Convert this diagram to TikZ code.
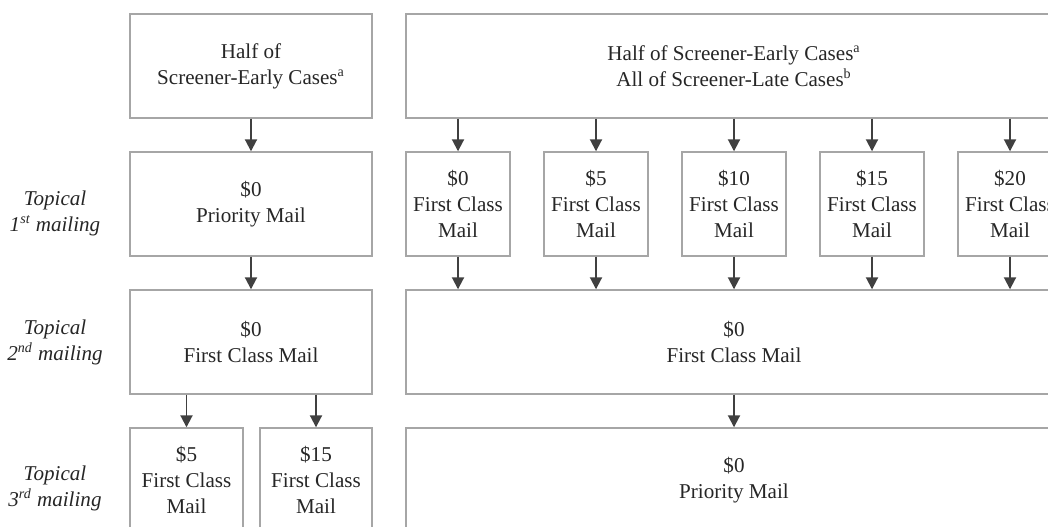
\documentclass[tikz,border=0pt]{standalone}
\usepackage{fontspec}
\setmainfont{Liberation Serif}
\usetikzlibrary{arrows.meta}
\definecolor{boxGray}{HTML}{A6A6A6}
\definecolor{arrowGray}{HTML}{404040}
\definecolor{textGray}{HTML}{262626}

\begin{document}
\begin{tikzpicture}[
      boxNode/.style={draw=boxGray, line width=0.8pt, minimum width=#1, minimum height=2.08cm,
        inner sep=0pt, align=center, text=textGray, font=\fontsize{12}{14.8}\selectfont},
      boxNode/.default=4.84cm,
      rowLabel/.style={align=center, text=textGray, font=\fontsize{12}{14.8}\selectfont\itshape},
      flowArrow/.style={-{Triangle[length=0.24cm,width=0.24cm]}, draw=arrowGray, line width=1.1pt},
    ]
    \clip (0,0) rectangle (20.96,-10.54);

    % sources
    \node[boxNode] (srcL) at (5.02,-1.32) {Half of\\Screener-Early Cases\textsuperscript{a}};
    \node[boxNode=13.12cm] (srcR) at (14.68,-1.32)
      {Half of Screener-Early Cases\textsuperscript{a}\\All of Screener-Late Cases\textsuperscript{b}};

    % 1st mailing
    \node[rowLabel] (lab1) at (1.1,-4.26) {Topical\\1\textsuperscript{st} mailing};
    \node[boxNode] (firstL) at (5.02,-4.08) {\$0\\Priority Mail};
    \foreach \x/\amt [count=\i] in {9.16/0,11.92/5,14.68/10,17.44/15,20.2/20}
      \node[boxNode=2.08cm] (first\i) at (\x,-4.08) {\$\amt\\First Class\\Mail};

    % 2nd mailing
    \node[rowLabel] (lab2) at (1.1,-6.84) {Topical\\2\textsuperscript{nd} mailing};
    \node[boxNode] (secondL) at (5.02,-6.84) {\$0\\First Class Mail};
    \node[boxNode=13.12cm] (secondR) at (14.68,-6.84) {\$0\\First Class Mail};

    % 3rd mailing
    \node[rowLabel] (lab3) at (1.1,-9.76) {Topical\\3\textsuperscript{rd} mailing};
    \node[boxNode=2.26cm] (thirdA) at (3.73,-9.6) {\$5\\First Class\\Mail};
    \node[boxNode=2.24cm] (thirdB) at (6.32,-9.6) {\$15\\First Class\\Mail};
    \node[boxNode=13.12cm] (thirdR) at (14.68,-9.6) {\$0\\Priority Mail};

    % arrows
    \draw[flowArrow] (srcL) -- (firstL);
    \draw[flowArrow] (firstL) -- (secondL);
    \foreach \i in {1,...,5} {
      \draw[flowArrow] (srcR.south -| first\i) -- (first\i);
      \draw[flowArrow] (first\i) -- (first\i |- secondR.north);
    }
    \draw[flowArrow] (secondL.south -| thirdA) -- (thirdA);
    \draw[flowArrow] (secondL.south -| thirdB) -- (thirdB);
    \draw[flowArrow] (secondR) -- (thirdR);

\end{tikzpicture}
\end{document}
